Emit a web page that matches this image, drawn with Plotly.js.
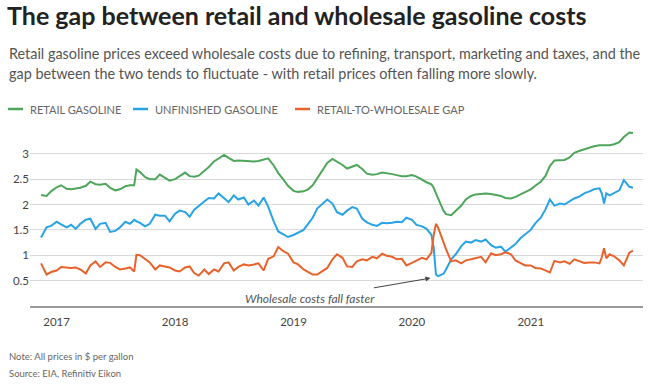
<!DOCTYPE html>
<html>
<head>
<meta charset="utf-8">
<script src="https://cdn.plot.ly/plotly-3.0.1.min.js"></script>
<style>
  html, body { margin: 0; padding: 0; background: #ffffff; }
  #chart { width: 652px; height: 386px; }
</style>
</head>
<body>
<div id="chart"></div>
<script>
// ---------------- DATA ----------------
const dates = [
  '2016-11-14','2016-12-01','2016-12-15',
  '2017-01-01','2017-01-15','2017-02-01','2017-02-15','2017-03-01','2017-03-15','2017-04-01','2017-04-15','2017-05-01','2017-05-15','2017-06-01','2017-06-15','2017-07-01','2017-07-15','2017-08-01','2017-08-15','2017-08-28','2017-09-04','2017-09-15','2017-10-01','2017-10-15','2017-11-01','2017-11-15','2017-12-01','2017-12-15',
  '2018-01-01','2018-01-15','2018-02-01','2018-02-15','2018-03-01','2018-03-15','2018-04-01','2018-04-15','2018-05-01','2018-05-15','2018-06-01','2018-06-15','2018-07-01','2018-07-15','2018-08-01','2018-08-15','2018-09-01','2018-09-15','2018-10-01','2018-10-15','2018-11-01','2018-11-15','2018-12-01','2018-12-15',
  '2019-01-01','2019-01-15','2019-02-01','2019-02-15','2019-03-01','2019-03-15','2019-04-01','2019-04-15','2019-05-01','2019-05-15','2019-06-01','2019-06-15','2019-07-01','2019-07-15','2019-08-01','2019-08-15','2019-09-01','2019-09-15','2019-10-01','2019-10-15','2019-11-01','2019-11-15','2019-12-01','2019-12-15',
  '2020-01-01','2020-01-15','2020-02-01','2020-02-15','2020-03-01','2020-03-08','2020-03-15','2020-03-22','2020-04-01','2020-04-08','2020-04-15','2020-05-01','2020-05-15','2020-06-01','2020-06-15','2020-07-01','2020-07-15','2020-08-01','2020-08-15','2020-09-01','2020-09-15','2020-10-01','2020-10-15','2020-11-01','2020-11-15','2020-12-01','2020-12-15',
  '2021-01-01','2021-01-15','2021-02-01','2021-02-15','2021-03-01','2021-03-15','2021-04-01','2021-04-15','2021-05-01','2021-05-15','2021-06-01','2021-06-15','2021-07-01','2021-07-15','2021-08-01','2021-08-08','2021-08-15','2021-08-22','2021-09-01','2021-09-15','2021-10-01','2021-10-15','2021-11-01','2021-11-12'
];

const retailGasoline = [
  2.19,2.17,2.26,
  2.34,2.38,2.31,2.30,2.32,2.33,2.37,2.45,2.40,2.39,2.41,2.33,2.28,2.30,2.36,2.38,2.38,2.69,2.64,2.54,2.50,2.50,2.59,2.53,2.47,
  2.50,2.56,2.63,2.56,2.55,2.57,2.66,2.74,2.85,2.91,2.98,2.92,2.86,2.87,2.86,2.86,2.85,2.86,2.88,2.91,2.77,2.62,2.49,2.37,
  2.27,2.25,2.26,2.30,2.38,2.52,2.67,2.82,2.90,2.85,2.78,2.71,2.74,2.78,2.70,2.61,2.59,2.60,2.63,2.62,2.60,2.58,2.56,2.56,
  2.58,2.55,2.48,2.44,2.40,2.33,2.22,2.10,1.97,1.87,1.81,1.79,1.87,1.98,2.10,2.17,2.20,2.21,2.22,2.21,2.19,2.17,2.13,2.12,2.15,2.20,2.25,
  2.30,2.37,2.45,2.56,2.76,2.87,2.87,2.88,2.93,3.02,3.06,3.09,3.12,3.15,3.17,3.17,3.17,3.17,3.17,3.19,3.23,3.33,3.42,3.41
];

const unfinishedGasoline = [
  1.35,1.55,1.58,
  1.66,1.61,1.55,1.60,1.52,1.62,1.70,1.72,1.52,1.62,1.64,1.46,1.48,1.55,1.66,1.62,1.70,1.67,1.64,1.57,1.62,1.80,1.78,1.78,1.67,
  1.82,1.88,1.85,1.76,1.90,1.98,2.06,2.13,2.12,2.22,2.13,2.05,2.18,2.10,2.14,2.00,2.08,1.98,2.14,1.96,1.67,1.47,1.41,1.36,
  1.40,1.44,1.50,1.62,1.74,1.92,2.03,2.10,2.02,1.85,1.80,1.88,1.95,1.92,1.72,1.65,1.60,1.58,1.64,1.63,1.64,1.66,1.65,1.74,
  1.70,1.60,1.57,1.52,1.40,1.15,0.62,0.59,0.62,0.64,0.72,0.92,1.02,1.18,1.27,1.25,1.30,1.27,1.31,1.20,1.15,1.17,1.07,1.15,1.22,1.34,1.42,
  1.50,1.63,1.74,1.90,2.10,1.98,2.02,2.00,2.07,2.12,2.16,2.22,2.26,2.30,2.32,2.22,2.02,2.22,2.18,2.22,2.28,2.48,2.35,2.33
];

const retailToWholesaleGap = [
  0.84,0.62,0.67,
  0.70,0.77,0.76,0.75,0.76,0.72,0.64,0.80,0.88,0.77,0.86,0.85,0.77,0.72,0.74,0.76,0.68,1.01,1.00,0.93,0.86,0.72,0.80,0.78,0.76,
  0.70,0.68,0.76,0.78,0.65,0.60,0.72,0.63,0.72,0.68,0.84,0.86,0.70,0.77,0.82,0.80,0.82,0.84,0.70,0.93,0.98,1.16,1.08,1.03,
  0.86,0.82,0.72,0.67,0.62,0.62,0.70,0.75,0.92,1.02,0.95,0.78,0.77,0.88,0.92,0.90,0.97,0.94,1.03,0.99,0.97,0.92,0.93,0.80,
  0.85,0.90,0.95,0.92,1.05,1.40,1.62,1.54,1.36,1.25,1.12,0.88,0.90,0.84,0.90,0.92,0.94,0.97,0.86,1.04,1.00,1.02,1.06,1.02,0.90,0.84,0.80,
  0.80,0.75,0.74,0.70,0.66,0.89,0.86,0.88,0.83,0.92,0.88,0.85,0.86,0.86,0.84,0.96,1.14,0.94,1.02,0.98,0.90,0.80,1.05,1.09
];

const seriesNames = ['RETAIL GASOLINE', 'UNFINISHED GASOLINE', 'RETAIL-TO-WHOLESALE GAP'];
const yTickVals = [0.5, 1, 1.5, 2, 2.5, 3];
const yTickText = ['0.5', '1', '1.5', '2', '2.5', '3'];
const xTickVals = ['2017-01-01', '2018-01-01', '2019-01-01', '2020-01-01', '2021-01-01'];
const xTickText = ['2017', '2018', '2019', '2020', '2021'];

// ---------------- STYLE / LAYOUT ----------------
const W = 652, H = 386;
const M = { l: 30, r: 9, t: 131, b: 80 };
const PW = W - M.l - M.r, PH = H - M.t - M.b;
const px = x => (x - M.l) / PW;          // pixel x -> paper x
const py = y => (H - M.b - y) / PH;      // pixel y -> paper y

const colors = ['#4ea65b', '#27a3e6', '#e8632b'];
const FONT = 'Lato, "Source Sans Pro", "Open Sans", sans-serif';

const seriesValues = [retailGasoline, unfinishedGasoline, retailToWholesaleGap];
const traces = seriesValues.map((vals, i) => ({
  type: 'scatter', mode: 'lines', name: seriesNames[i],
  x: dates, y: vals,
  line: { color: colors[i], width: 2 },
  hoverinfo: 'skip', showlegend: false
}));

// legend (drawn as short line segments + labels)
const legendPos = [ {l: 8, t: 28}, {l: 133, t: 153}, {l: 295, t: 315} ];
const legendY = 109;
const shapes = legendPos.map((p, i) => ({
  type: 'line', xref: 'paper', yref: 'paper',
  x0: px(p.l), x1: px(p.l + 15), y0: py(legendY), y1: py(legendY),
  line: { color: colors[i], width: 2.5 }
}));

const annotations = [];
legendPos.forEach((p, i) => annotations.push({
  xref: 'paper', yref: 'paper', x: px(p.t), y: py(legendY),
  xanchor: 'left', yanchor: 'middle', showarrow: false,
  text: seriesNames[i], font: { family: FONT, size: 11, color: '#666' }
}));

annotations.push({
  xref: 'paper', yref: 'paper', x: px(7), y: py(53), xanchor: 'left', yanchor: 'middle', showarrow: false,
  text: 'Retail gasoline prices exceed wholesale costs due to refining, transport, marketing and taxes, and the',
  font: { family: FONT, size: 14.4, color: '#555' }
});
annotations.push({
  xref: 'paper', yref: 'paper', x: px(7), y: py(73), xanchor: 'left', yanchor: 'middle', showarrow: false,
  text: 'gap between the two tends to fluctuate - with retail prices often falling more slowly.',
  font: { family: FONT, size: 14.4, color: '#555' }
});
annotations.push({
  xref: 'paper', yref: 'paper', x: px(7), y: py(356), xanchor: 'left', yanchor: 'middle', showarrow: false,
  text: 'Note: All prices in $ per gallon', font: { family: FONT, size: 9.5, color: '#666' }
});
annotations.push({
  xref: 'paper', yref: 'paper', x: px(7), y: py(373), xanchor: 'left', yanchor: 'middle', showarrow: false,
  text: 'Source: EIA, Refinitiv Eikon', font: { family: FONT, size: 9.5, color: '#666' }
});
// callout
annotations.push({
  xref: 'paper', yref: 'paper', x: px(377), y: py(298), xanchor: 'right', yanchor: 'middle', showarrow: false,
  text: '<i>Wholesale costs fall faster</i>', font: { family: FONT, size: 12, color: '#555' }
});
annotations.push({
  xref: 'x', yref: 'y', x: '2020-02-27', y: 0.55, ax: -58, ay: 10,
  text: '', showarrow: true, arrowhead: 2, arrowsize: 1, arrowwidth: 1, arrowcolor: '#444'
});

const layout = {
  width: W, height: H, margin: M,
  paper_bgcolor: '#ffffff', plot_bgcolor: '#ffffff',
  font: { family: FONT, color: '#444' },
  title: {
    text: '<b>The gap between retail and wholesale gasoline costs</b>',
    font: { family: FONT, size: 25, color: '#222' },
    xref: 'container', yref: 'container', x: 7 / W, xanchor: 'left', y: 1 - 7 / H, yanchor: 'top',
    pad: { t: 0, l: 0, r: 0, b: 0 }
  },
  xaxis: {
    type: 'date', range: ['2016-10-11', '2021-12-13'],
    tickvals: xTickVals, ticktext: xTickText,
    showgrid: false, zeroline: false,
    showline: true, linecolor: '#9a9a9a', linewidth: 2,
    ticks: '', ticklabelstandoff: 4,
    tickfont: { family: FONT, size: 11.5, color: '#444' }
  },
  yaxis: {
    range: [0, 3.45], tickvals: yTickVals, ticktext: yTickText,
    showgrid: true, gridcolor: '#d9d9d9', gridwidth: 1,
    zeroline: false, showline: false, ticks: '',
    tickfont: { family: FONT, size: 11.5, color: '#444' }
  },
  shapes: shapes,
  annotations: annotations,
  showlegend: false,
  hovermode: false
};

Plotly.newPlot('chart', traces, layout, { staticPlot: true, displayModeBar: false });
</script>
</body>
</html>
